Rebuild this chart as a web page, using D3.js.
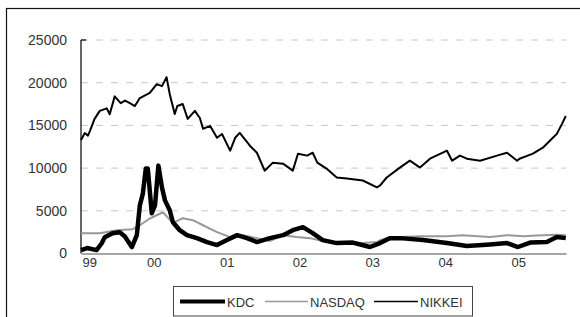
<!DOCTYPE html>
<html lang="en">
<head>
  <meta charset="UTF-8">
  <title>KDC / NASDAQ / NIKKEI</title>
  <style>
    body {
      margin: 0;
      background: #fff;
      font-family: "Liberation Sans", Arial, sans-serif;
    }
    .tick-label {
      fill: #333;
    }
  </style>
</head>
<body>
  <svg id="chart" width="580" height="317"></svg>

  <script src="https://d3js.org/d3.v7.min.js"></script>
  <script>
    // Data (approximate)
    const yTicks = [0, 5000, 10000, 15000, 20000, 25000];
    const yearTicks = ["1999", "2000", "2001", "2002", "2003", "2004", "2005"];

    const nikkeiDates = [
      "1999-01-01", "1999-01-20", "1999-02-05", "1999-02-15", "1999-03-10", "1999-04-05", "1999-05-10",
      "1999-05-25", "1999-06-19", "1999-07-19", "1999-08-10", "1999-09-03", "1999-09-28", "1999-10-23",
      "1999-12-12", "2000-01-16", "2000-02-11", "2000-03-05", "2000-03-21", "2000-04-15", "2000-04-28",
      "2000-05-25", "2000-06-19", "2000-07-25", "2000-08-19", "2000-09-04", "2000-10-09", "2000-11-13",
      "2000-12-08", "2001-01-18", "2001-02-12", "2001-03-07", "2001-04-27", "2001-06-01", "2001-07-10",
      "2001-08-20", "2001-10-10", "2001-11-28", "2001-12-24", "2002-02-08", "2002-03-08", "2002-03-31",
      "2002-05-16", "2002-07-06", "2002-08-26", "2002-11-14", "2003-01-24", "2003-02-09", "2003-03-14",
      "2003-05-19", "2003-07-08", "2003-08-28", "2003-10-17", "2004-01-10", "2004-02-05", "2004-03-15",
      "2004-04-19", "2004-06-24", "2004-09-17", "2004-11-06", "2004-12-27", "2005-01-08", "2005-03-16",
      "2005-05-05", "2005-06-19", "2005-07-14", "2005-08-09", "2005-08-28"
    ];
    const nikkeiValues = [
      13300, 14100, 13800, 14360, 15760, 16700, 17000,
      16300, 18400, 17600, 17900, 17600, 17270, 18200,
      18800, 19830, 19600, 20640, 18660, 16340, 17270,
      17500, 15760, 16700, 15870, 14600, 14950, 13550,
      14000, 12040, 13550, 14130, 12620, 11800, 9700,
      10640, 10520, 9700, 11690, 11460, 11800, 10640,
      9940, 8900, 8780, 8550, 7740, 7970, 8900,
      10060, 10870, 10060, 11100, 12040, 10870, 11460,
      11100, 10870, 11460, 11800, 10870, 11100, 11690,
      12390, 13430, 14010, 15180, 16100
    ];

    const kdcDates = [
      "1999-01-01", "1999-02-01", "1999-03-20", "1999-04-15", "1999-04-30", "1999-06-08", "1999-07-14",
      "1999-08-08", "1999-09-13", "1999-10-08", "1999-10-23", "1999-11-07", "1999-11-22", "1999-12-02",
      "1999-12-22", "2000-01-07", "2000-01-24", "2000-02-11", "2000-02-26", "2000-03-21", "2000-04-06",
      "2000-05-10", "2000-06-15", "2000-08-04", "2000-09-24", "2000-11-13", "2001-01-02", "2001-02-22",
      "2001-04-12", "2001-06-01", "2001-08-05", "2001-10-10", "2001-11-28", "2002-01-18", "2002-03-08",
      "2002-04-27", "2002-07-06", "2002-09-25", "2002-12-20", "2003-02-09", "2003-03-29", "2003-05-19",
      "2003-09-12", "2004-01-10", "2004-04-19", "2004-08-13", "2004-11-06", "2004-12-31", "2005-03-02",
      "2005-05-25", "2005-07-14", "2005-08-28"
    ];
    const kdcValues = [
      400, 640, 400, 1200, 1900, 2380, 2500,
      2030, 760, 2150, 5640, 7000, 9940, 9940,
      4710, 5640, 10290, 7730, 6220, 5060, 3660,
      2730, 2150, 1800, 1340, 990, 1570, 2150,
      1800, 1340, 1800, 2150, 2730, 3080, 2380,
      1570, 1220, 1280, 760, 1220, 1800, 1800,
      1570, 1220, 870, 1060, 1220, 760, 1280,
      1340, 1920, 1800
    ];

    const nasdaqDates = [
      "1999-01-01", "1999-04-05", "1999-06-29", "1999-09-18", "1999-10-23", "1999-12-12", "2000-02-16",
      "2000-04-06", "2000-05-25", "2000-07-15", "2000-09-04", "2000-11-13", "2001-01-18", "2001-03-22",
      "2001-06-01", "2001-08-05", "2001-10-10", "2001-12-18", "2002-02-23", "2002-05-16", "2002-07-06",
      "2002-08-26", "2002-11-14", "2003-01-24", "2003-02-09", "2003-03-14", "2003-05-19", "2003-08-28",
      "2004-01-10", "2004-03-30", "2004-08-13", "2004-11-06", "2005-01-27", "2005-04-05", "2005-07-14",
      "2005-08-28"
    ];
    const nasdaqValues = [
      2380, 2380, 2730, 2850, 3310, 4100, 4830,
      3550, 4130, 3900, 3310, 2500, 1920, 2150,
      1800, 1450, 2150, 1920, 1800, 1340, 1220,
      1340, 1220, 1340, 1570, 1800, 1920, 2030,
      2030, 2150, 1920, 2150, 2030, 2100, 2210,
      2150
    ];

    const parseDate = d3.timeParse("%Y-%m-%d");
    const zip = (dates, values) => dates.map((d, i) => ({ date: parseDate(d), value: values[i] }));

    const series = [
      { name: "NASDAQ", data: zip(nasdaqDates, nasdaqValues), color: "#999", width: 2 },
      { name: "KDC", data: zip(kdcDates, kdcValues), color: "#000", width: 4.5 },
      { name: "NIKKEI", data: zip(nikkeiDates, nikkeiValues), color: "#000", width: 2 }
    ];

    const svg = d3.select("#chart");

    // Outer frame (only top and left edges fall inside the picture)
    svg.append("rect")
      .attr("x", 6.5)
      .attr("y", 8.5)
      .attr("width", 620)
      .attr("height", 400)
      .attr("fill", "none")
      .attr("stroke", "#111")
      .attr("stroke-width", 1.2);

    // Scales
    const x = d3.scaleTime()
      .domain([parseDate("1999-01-01"), parseDate("2005-08-29")])
      .range([81, 566]);
    const y = d3.scaleLinear().domain([0, 25000]).range([253.5, 40]);

    // Dashed gridlines
    svg.append("g")
      .selectAll("line")
      .data(yTicks.filter(d => d > 0))
      .join("line")
      .attr("x1", 81)
      .attr("x2", 566)
      .attr("y1", d => y(d))
      .attr("y2", d => y(d))
      .attr("stroke", "#c8c8c8")
      .attr("stroke-width", 1)
      .attr("stroke-dasharray", "7,8");

    // Y axis
    const yAxis = svg.append("g")
      .attr("transform", "translate(81,0)")
      .call(d3.axisLeft(y).tickValues(yTicks).tickSize(0).tickPadding(14).tickFormat(d3.format("d")));
    yAxis.select(".domain").remove();
    yAxis.selectAll("text")
      .attr("class", "tick-label")
      .style("font-size", "14px")
      .style("font-family", "'Liberation Sans', Arial, sans-serif");

    svg.append("line")
      .attr("x1", 81).attr("x2", 81)
      .attr("y1", y(25000)).attr("y2", y(0))
      .attr("stroke", "#000")
      .attr("stroke-width", 1.2);
    svg.append("line")
      .attr("x1", 81).attr("x2", 86)
      .attr("y1", y(25000)).attr("y2", y(25000))
      .attr("stroke", "#000")
      .attr("stroke-width", 1.2);

    // Lines
    const line = d3.line()
      .x(d => x(d.date))
      .y(d => y(d.value));

    series.forEach(s => {
      svg.append("path")
        .datum(s.data)
        .attr("fill", "none")
        .attr("stroke", s.color)
        .attr("stroke-width", s.width)
        .attr("stroke-linejoin", "round")
        .attr("d", line);
    });

    // X axis
    const xAxis = svg.append("g")
      .attr("transform", `translate(0,${y(0)})`)
      .call(d3.axisBottom(x)
        .tickValues(yearTicks.map(d => parseDate(d + "-01-01")))
        .tickSize(0)
        .tickPadding(4)
        .tickFormat(d3.timeFormat("%y")));
    xAxis.select(".domain")
      .attr("stroke", "#888")
      .attr("stroke-width", 1.5);
    xAxis.selectAll("text")
      .attr("class", "tick-label")
      .style("font-size", "13px")
      .style("font-family", "'Liberation Sans', Arial, sans-serif");
    // first label sits inside the plot
    xAxis.select(".tick text").attr("text-anchor", "start").attr("x", 1);

    // Legend
    const legend = svg.append("g");
    legend.append("rect")
      .attr("x", 173.5)
      .attr("y", 286.5)
      .attr("width", 299)
      .attr("height", 29.5)
      .attr("fill", "#fff")
      .attr("stroke", "#444")
      .attr("stroke-width", 1);

    const legendItems = [
      { name: "KDC", x1: 180, x2: 225, color: "#000", width: 4 },
      { name: "NASDAQ", x1: 265, x2: 308, color: "#999", width: 1.5 },
      { name: "NIKKEI", x1: 374, x2: 418, color: "#000", width: 1.5 }
    ];
    legendItems.forEach(it => {
      legend.append("line")
        .attr("x1", it.x1).attr("x2", it.x2)
        .attr("y1", 301.5).attr("y2", 301.5)
        .attr("stroke", it.color)
        .attr("stroke-width", it.width);
      legend.append("text")
        .attr("class", "tick-label")
        .attr("x", it.x2 + 2)
        .attr("y", 306.5)
        .style("font-size", "13px")
        .text(it.name);
    });
  </script>
</body>
</html>
